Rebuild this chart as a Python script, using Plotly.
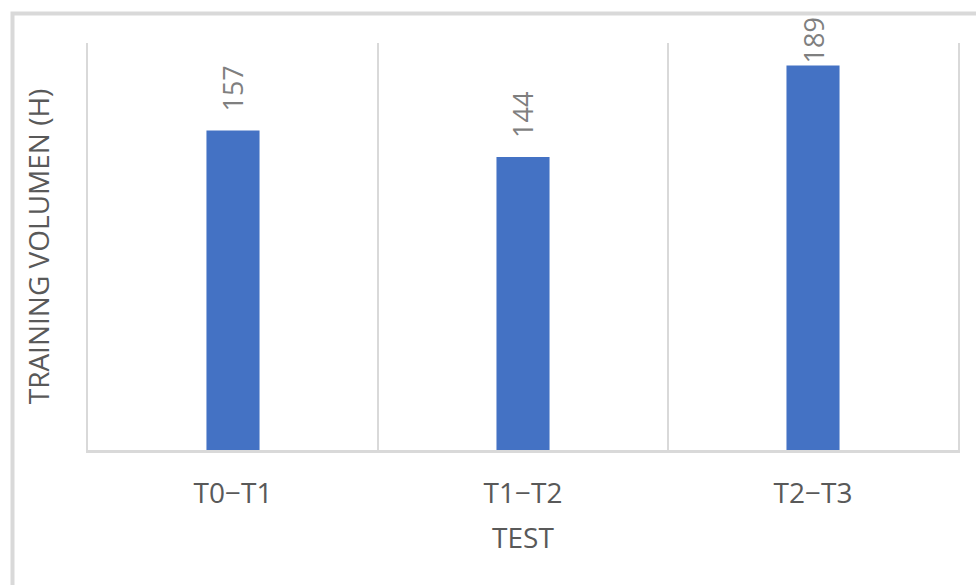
import plotly.graph_objects as go

# Training volume per test interval (hours)
periods = ["T0−T1", "T1−T2", "T2−T3"]
hours = [157, 144, 189]
# vertical offset (px) of each value label above its bar
label_shift = [17, 17, 0]

BAR = "#4472C4"
GRID = "#D9D9D9"
TXT = "#595959"
FONT = "Open Sans, Noto Sans, sans-serif"
FS = 28

W, H = 976, 585
L, R, T, B = 88, 18, 43, 135
pw, ph = W - L - R, H - T - B

fig = go.Figure(
    go.Bar(
        x=periods,
        y=hours,
        width=0.183,
        marker=dict(color=BAR, line=dict(width=0)),
        hoverinfo="x+y",
    )
)

for p, v, s in zip(periods, hours, label_shift):
    fig.add_annotation(
        x=p, y=v, text=str(v), textangle=-90, showarrow=False,
        yanchor="bottom", yshift=s,
        font=dict(family=FONT, size=FS - 1, color="#7F7F7F"),
    )

# outer chart frame
fig.add_shape(
    type="rect", xref="paper", yref="paper",
    x0=(12.5 - L) / pw, x1=(W + 20 - L) / pw,
    y0=-(H + 20 - T - ph) / ph, y1=1 + (T - 13.5) / ph,
    line=dict(color=GRID, width=4), fillcolor="rgba(0,0,0,0)", layer="below",
)

fig.update_layout(
    width=W, height=H,
    margin=dict(l=L, r=R, t=T, b=B),
    paper_bgcolor="white", plot_bgcolor="white",
    showlegend=False,
    font=dict(family=FONT, color=TXT),
    xaxis=dict(
        type="category",
        tickson="boundaries",
        showgrid=True, gridcolor=GRID, gridwidth=1.5,
        showline=True, linecolor=GRID, linewidth=2.5,
        ticks="", ticklabelstandoff=17,
        tickfont=dict(family=FONT, size=FS, color=TXT),
        title=dict(text="TEST", standoff=19, font=dict(family=FONT, size=FS, color=TXT)),
        zeroline=False,
    ),
    yaxis=dict(
        range=[0, 200],
        showgrid=False, zeroline=False,
        showline=True, mirror=True, linecolor=GRID, linewidth=1.5,
        showticklabels=False, ticks="",
        title=dict(text="TRAINING VOLUMEN (H)", standoff=28,
                   font=dict(family=FONT, size=FS, color=TXT)),
    ),
)

fig.write_html("out.html")
